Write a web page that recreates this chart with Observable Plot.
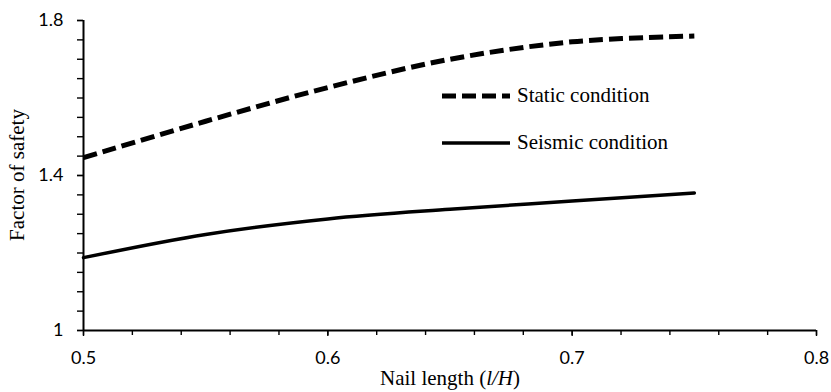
<!DOCTYPE html>
<html>
<head>
<meta charset="utf-8">
<script src="https://cdn.jsdelivr.net/npm/d3@7"></script>
<script src="https://cdn.jsdelivr.net/npm/@observablehq/plot@0.6"></script>
<style>
  body { margin: 0; background: #fff; }
  #chart svg { display: block; }
</style>
</head>
<body>
<div id="chart"></div>
<script>
// Nail length ratio l/H and the resulting factor of safety
const nailLength = [0.5, 0.55, 0.6, 0.65, 0.7, 0.75];
const staticFS   = [1.446, 1.54, 1.627, 1.70, 1.745, 1.76];
const seismicFS  = [1.188, 1.248, 1.288, 1.313, 1.334, 1.355];

// Axis ticks and their labels
const xMajorTicks = [0.5, 0.6, 0.7, 0.8];
const xTickLabels = ["0.5", "0.6", "0.7", "0.8"];
const xMinorTicks = d3.range(0, 16).map(i => +(0.5 + i * 0.02).toFixed(2));
const yMajorTicks = [1, 1.4, 1.8];
const yTickLabels = ["1", "1.4", "1.8"];
const yMinorTicks = d3.range(0, 17).map(i => +(1 + i * 0.05).toFixed(2));

const seriesNames = ["Static condition", "Seismic condition"];

const staticRows  = nailLength.map((x, i) => ({x, y: staticFS[i]}));
const seismicRows = nailLength.map((x, i) => ({x, y: seismicFS[i]}));

const chart = Plot.plot({
  width: 831,
  height: 392,
  marginLeft: 83,
  marginRight: 15,
  marginTop: 20,
  marginBottom: 62,
  style: {fontFamily: "Lato, sans-serif", fontSize: "18px", color: "black", background: "white", overflow: "visible"},
  x: {domain: [0.5, 0.8]},
  y: {domain: [1, 1.8]},
  marks: [
    Plot.axisX({ticks: xMinorTicks, tickSize: 5, tickFormat: () => "", label: null, strokeWidth: 1.4}),
    Plot.axisX({ticks: xMajorTicks, tickSize: 6, tickPadding: 15, tickFormat: (d, i) => xTickLabels[i], label: null, strokeWidth: 1.4}),
    Plot.axisY({ticks: yMinorTicks, tickSize: 6, tickFormat: () => "", label: null, strokeWidth: 1.4}),
    Plot.axisY({ticks: yMajorTicks, tickSize: 6, tickPadding: 14, tickFormat: (d, i) => yTickLabels[i], label: null, strokeWidth: 1.4}),
    Plot.ruleY([1], {stroke: "black", strokeWidth: 2}),
    Plot.ruleX([0.5], {stroke: "black", strokeWidth: 2}),
    Plot.line(staticRows, {x: "x", y: "y", stroke: "black", strokeWidth: 5, strokeDasharray: "14,6", strokeLinecap: "butt", strokeLinejoin: "miter", curve: "catmull-rom"}),
    Plot.line(seismicRows, {x: "x", y: "y", stroke: "black", strokeWidth: 3.5, curve: "catmull-rom"})
  ]
});

document.getElementById("chart").appendChild(chart);

// Axis titles and legend in a serif face
const svg = d3.select(chart);
const serif = "'Liberation Serif', 'Times New Roman', serif";

const xTitle = svg.append("text")
  .attr("x", 450).attr("y", 385)
  .style("text-anchor", "middle")
  .style("font-family", serif).style("font-size", "21px").style("fill", "black");
xTitle.append("tspan").text("Nail length (");
xTitle.append("tspan").style("font-style", "italic").text("l/H");
xTitle.append("tspan").text(")");

svg.append("text")
  .attr("transform", "translate(24,175) rotate(-90)")
  .style("text-anchor", "middle")
  .style("font-family", serif).style("font-size", "21px").style("fill", "black")
  .text("Factor of safety");

const legend = svg.append("g");
const legendItems = [
  {name: seriesNames[0], y: 96, width: 5, dash: "14,6"},
  {name: seriesNames[1], y: 143, width: 3.5, dash: null}
];
legendItems.forEach(d => {
  legend.append("line")
    .attr("x1", 442).attr("x2", 510).attr("y1", d.y).attr("y2", d.y)
    .attr("stroke", "black").attr("stroke-width", d.width)
    .attr("stroke-dasharray", d.dash);
  legend.append("text")
    .attr("x", 517).attr("y", d.y + 6)
    .style("text-anchor", "start")
    .style("font-family", serif).style("font-size", "21px").style("fill", "black")
    .text(d.name);
});
</script>
</body>
</html>
